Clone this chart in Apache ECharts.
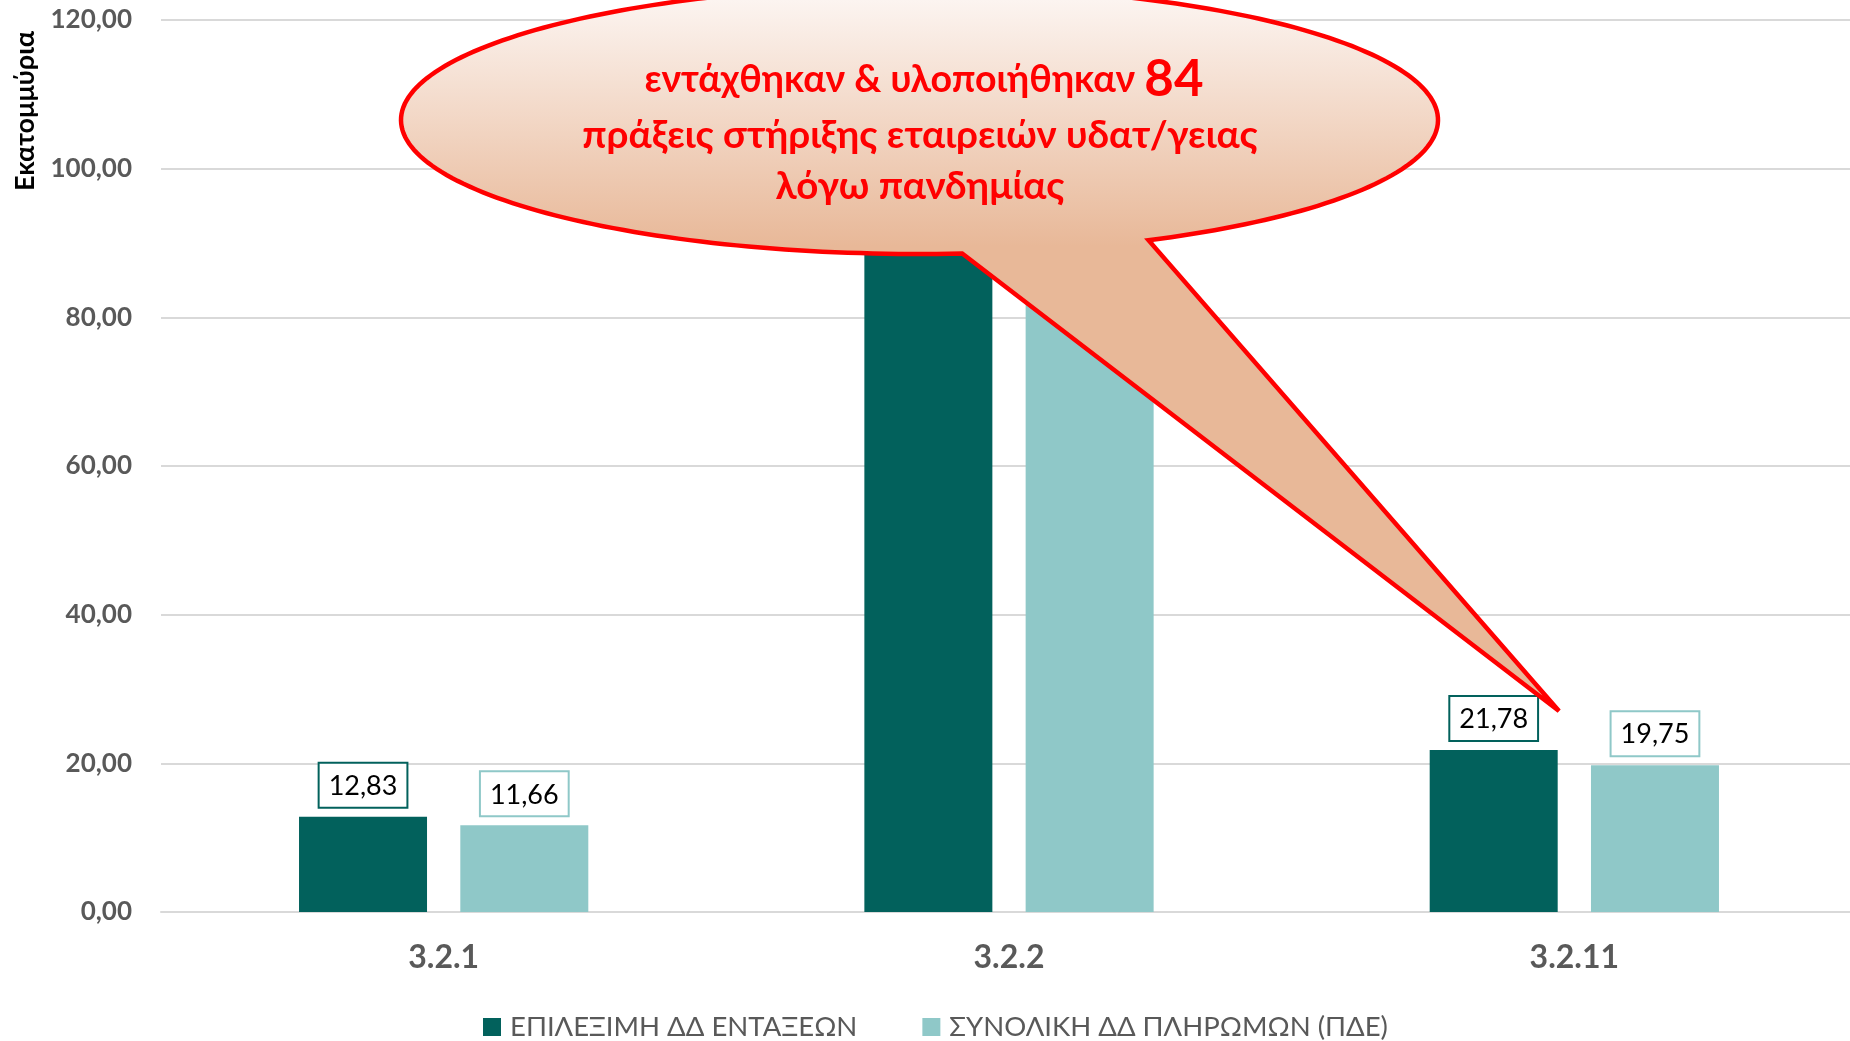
<!DOCTYPE html>
<html>
<head>
<meta charset="utf-8">
<script src="https://cdn.jsdelivr.net/npm/echarts@6/dist/echarts.min.js"></script>
<style>
html,body{margin:0;padding:0;background:#fff;overflow:hidden;width:1850px;height:1041px;}
#chart{width:1857px;height:1041px;}
</style>
</head>
<body>
<div id="chart"></div>
<script>
const categories = ['3.2.1', '3.2.2', '3.2.11'];
const eligibleValues = [12.83, 103.5, 21.78];
const paymentValues = [11.66, 91.2, 19.75];
const seriesNames = ['ΕΠΙΛΕΞΙΜΗ ΔΔ ΕΝΤΑΞΕΩΝ', 'ΣΥΝΟΛΙΚΗ ΔΔ ΠΛΗΡΩΜΩΝ (ΠΔΕ)'];
const yAxisTitle = 'Εκατομμύρια';
const calloutLines = ['εντάχθηκαν & υλοποιήθηκαν {b|84}', 'πράξεις στήριξης εταιρειών υδατ/γειας', 'λόγω πανδημίας'];

const FONT = 'Lato, "Noto Sans", sans-serif';
const DARK = '#02615c';
const LIGHT = '#8fc8c8';
const fmt = v => Number(v).toFixed(2).replace('.', ',');

// speech-bubble outline (annotation shape, not data)
function bubblePoints() {
  const cx = 919.5, cy = 120, rx = 518.5, ry = 134;
  const baseL = [962, 253], baseR = [1150, 241], tip = [1559, 711];
  const t0 = Math.atan2((baseL[1] - cy) / ry, (baseL[0] - cx) / rx);
  let t1 = Math.atan2((baseR[1] - cy) / ry, (baseR[0] - cx) / rx);
  while (t1 <= t0) t1 += Math.PI * 2;
  const pts = [];
  const n = 240;
  for (let i = 0; i <= n; i++) {
    const t = t0 + (t1 - t0) * i / n;
    pts.push([cx + rx * Math.cos(t), cy + ry * Math.sin(t)]);
  }
  pts.push(tip);
  return pts;
}

const chart = echarts.init(document.getElementById('chart'));

function labelCfg(color) {
  return {
    show: true,
    position: 'top',
    distance: 10,
    formatter: p => fmt(p.value),
    color: '#000',
    fontFamily: FONT,
    fontSize: 27,
    backgroundColor: '#fff',
    borderColor: color,
    borderWidth: 2,
    padding: [9, 9, 7, 9]
  };
}

chart.setOption({
  animation: false,
  textStyle: { fontFamily: FONT },
  grid: { left: 161, right: 0, top: 20, bottom: 129, containLabel: false },
  xAxis: {
    type: 'category',
    data: categories,
    axisLine: { lineStyle: { color: '#d9d9d9', width: 2 } },
    axisTick: { show: false },
    axisLabel: { color: '#595959', fontSize: 32, fontWeight: 'bold', margin: 30, fontFamily: FONT }
  },
  yAxis: {
    type: 'value',
    min: 0, max: 120, interval: 20,
    axisLine: { show: false },
    axisTick: { show: false },
    splitLine: { lineStyle: { color: '#d9d9d9', width: 2 } },
    axisLabel: { color: '#595959', fontSize: 26, fontWeight: 'bold', margin: 29, fontFamily: FONT, formatter: v => fmt(v) }
  },
  legend: {
    left: 478, top: 1008,
    icon: 'rect', itemWidth: 18, itemHeight: 18, itemGap: 65,
    textStyle: { color: '#595959', fontSize: 27.5, fontFamily: FONT, padding: [0, 0, 0, 4] },
    data: seriesNames
  },
  series: [
    { name: seriesNames[0], type: 'bar', data: eligibleValues, barWidth: 128, barGap: '26%', itemStyle: { color: DARK }, label: labelCfg(DARK), z: 2 },
    { name: seriesNames[1], type: 'bar', data: paymentValues, barWidth: 128, barGap: '26%', itemStyle: { color: LIGHT }, label: labelCfg(LIGHT), z: 2 }
  ],
  graphic: [
    {
      type: 'text', x: 25, y: 111, rotation: Math.PI / 2, z: 10,
      style: { text: yAxisTitle, fontFamily: FONT, fontSize: 27, fontWeight: 'bold', fill: '#000', align: 'center', verticalAlign: 'middle' }
    },
    {
      type: 'polygon', z: 100,
      shape: { points: bubblePoints() },
      style: {
        fill: new echarts.graphic.LinearGradient(0, 0, 0, 1, [
          { offset: 0, color: '#fdf8f6' },
          { offset: 0.36, color: '#e8b898' },
          { offset: 1, color: '#e8b898' }
        ]),
        stroke: '#ff0000', lineWidth: 4.5, lineJoin: 'miter'
      }
    },
    {
      type: 'text', x: 924, y: 80, z: 101,
      style: { text: calloutLines[0], fontFamily: FONT, fontSize: 37.5, fontWeight: 'bold', fill: '#ff0000', align: 'center', verticalAlign: 'middle',
        rich: { b: { fontFamily: FONT, fontSize: 51, fontWeight: 'bold', fill: '#ff0000' } } }
    },
    {
      type: 'text', x: 920, y: 136, z: 101,
      style: { text: calloutLines[1], fontFamily: FONT, fontSize: 38.5, fontWeight: 'bold', fill: '#ff0000', align: 'center', verticalAlign: 'middle' }
    },
    {
      type: 'text', x: 920, y: 187, z: 101,
      style: { text: calloutLines[2], fontFamily: FONT, fontSize: 38.5, fontWeight: 'bold', fill: '#ff0000', align: 'center', verticalAlign: 'middle' }
    }
  ]
});
</script>
</body>
</html>
